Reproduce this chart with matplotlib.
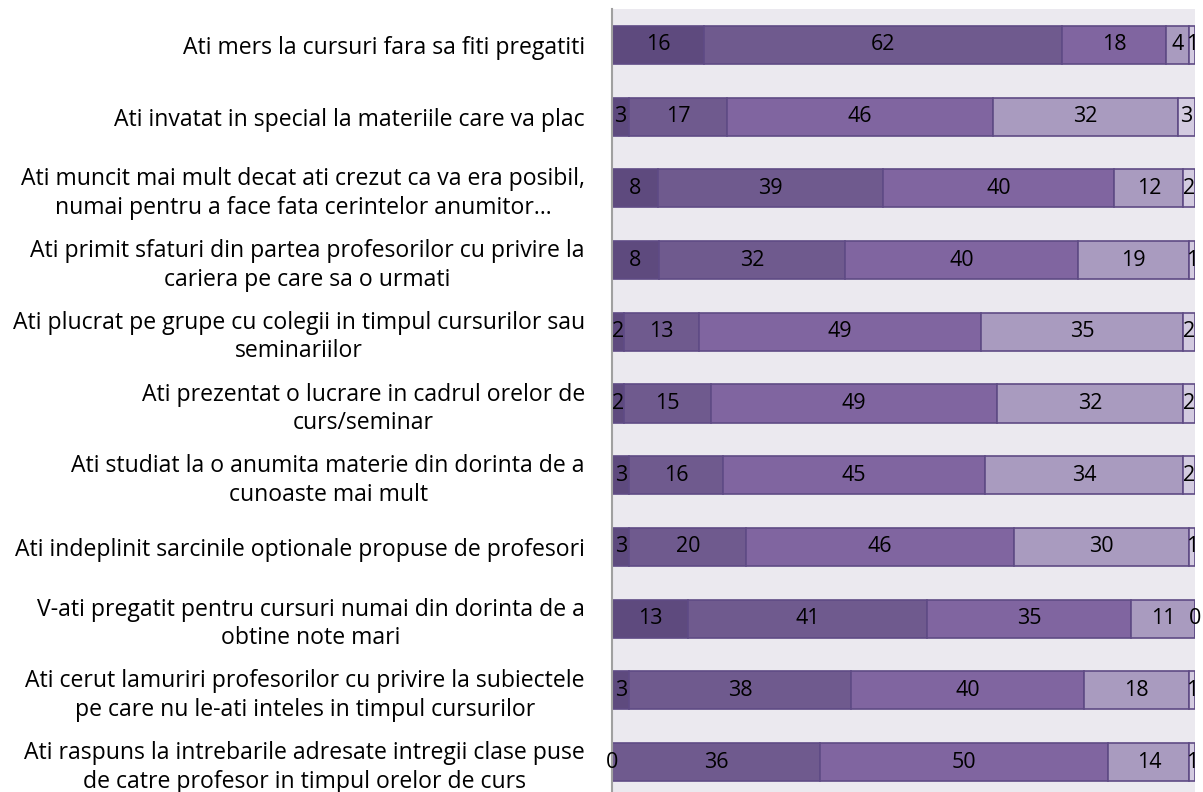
import numpy as np
import matplotlib.pyplot as plt

plt.rcParams['font.family'] = ['Open Sans', 'DejaVu Sans']

# categorii (de sus in jos)
labels = [
    "Ati mers la cursuri fara sa fiti pregatiti",
    "Ati invatat in special la materiile care va plac",
    "Ati muncit mai mult decat ati crezut ca va era posibil,\nnumai pentru a face fata cerintelor anumitor…",
    "Ati primit sfaturi din partea profesorilor cu privire la\ncariera pe care sa o urmati",
    "Ati plucrat pe grupe cu colegii in timpul cursurilor sau\nseminariilor",
    "Ati prezentat o lucrare in cadrul orelor de\ncurs/seminar",
    "Ati studiat la o anumita materie din dorinta de a\ncunoaste mai mult",
    "Ati indeplinit sarcinile optionale propuse de profesori",
    "V-ati pregatit pentru cursuri numai din dorinta de a\nobtine note mari",
    "Ati cerut lamuriri profesorilor cu privire la subiectele\npe care nu le-ati inteles in timpul cursurilor",
    "Ati raspuns la intrebarile adresate intregii clase puse\nde catre profesor in timpul orelor de curs",
]

# valori pe serii (5 nivele de raspuns)
s1 = [16, 3, 8, 8, 2, 2, 3, 3, 13, 3, 0]
s2 = [62, 17, 39, 32, 13, 15, 16, 20, 41, 38, 36]
s3 = [18, 46, 40, 40, 49, 49, 45, 46, 35, 40, 50]
s4 = [4, 32, 12, 19, 35, 32, 34, 30, 11, 18, 14]
s5 = [1, 3, 2, 1, 2, 2, 2, 1, 0, 1, 1]

colors = ["#5e4a7e", "#6f5a8e", "#8065a0", "#a99bbf", "#d3cbe0"]
edge = "#5f4b85"


def Main():
    fig = plt.figure(figsize=(12.03, 7.92), dpi=100)
    ax = fig.add_axes([612 / 1203, -6 / 792, 583 / 1203, 789 / 792])
    ax.set_facecolor("#ebe9ef")

    series = np.array([s1, s2, s3, s4, s5], dtype=float)
    totals = series.sum(axis=0)
    frac = series / totals
    y = np.arange(len(labels))
    left = np.zeros(len(labels))

    for k in range(len(series)):
        ax.barh(y, frac[k], left=left, height=0.53, color=colors[k],
                edgecolor=edge, linewidth=1.2)
        for i in range(len(labels)):
            ax.text(left[i] + frac[k][i] / 2, y[i], str(int(series[k][i])),
                    ha="center", va="center", fontsize=15.5, color="black")
        left += frac[k]

    ax.set_xlim(0, 1)
    ax.set_ylim(len(labels) - 0.5, -0.5)
    ax.set_xticks([])
    ax.set_yticks(y)
    ax.set_yticklabels(labels, fontsize=16.6, ha="right", multialignment="center",
                       linespacing=1.25)
    ax.tick_params(axis="y", length=0, pad=19.5)
    for s in ["top", "right", "bottom"]:
        ax.spines[s].set_visible(False)
    ax.spines["left"].set_color("#a0a0a0")
    ax.spines["left"].set_linewidth(1.5)

    fig.savefig("out.png", dpi=100)


if __name__ == "__main__":
    Main()
